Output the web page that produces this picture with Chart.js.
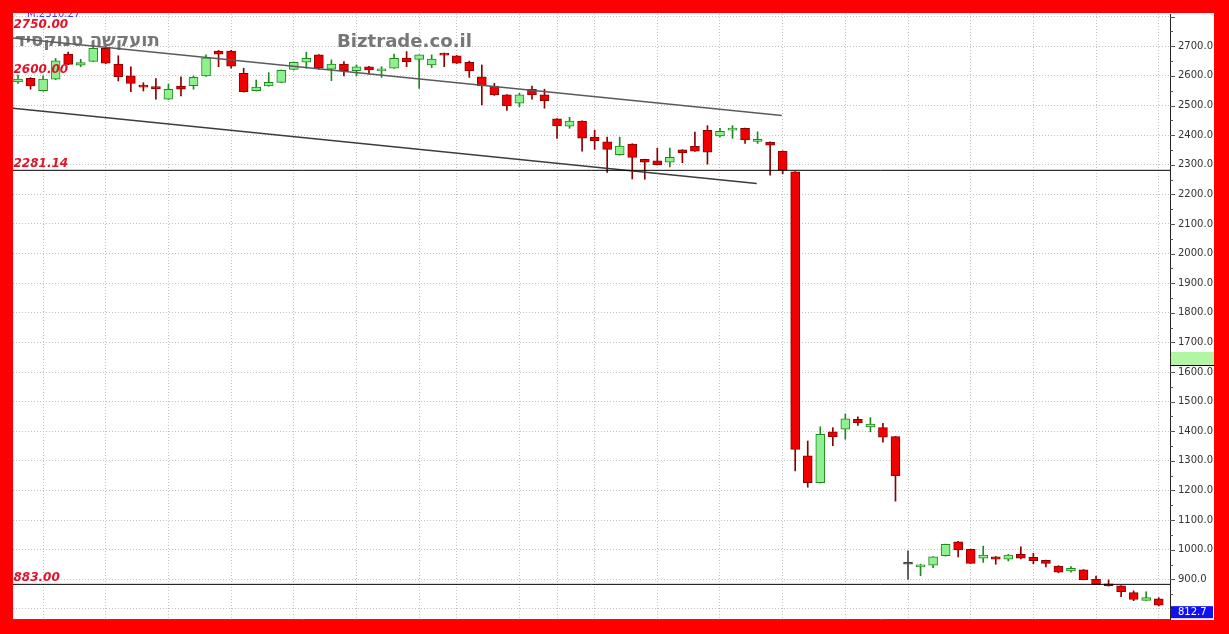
<!DOCTYPE html>
<html><head><meta charset="utf-8">
<script src="https://cdn.jsdelivr.net/npm/chart.js@4.4.1/dist/chart.umd.min.js"></script>
<style>
html,body{margin:0;padding:0;background:#ff0000;width:1229px;height:634px;overflow:hidden}
#wrap{position:absolute;left:13px;top:13px;width:1201px;height:607px;background:#fff}
canvas{display:block}
</style></head><body>
<div id="wrap"><canvas id="c" width="1201" height="607"></canvas></div>
<script>
// ---- data (daily candles, oldest first) ----
const opens  = [2580,2592,2550,2589,2674,2636,2649,2693,2640,2600,2567,2564,2521,2566,2567,2600,2684,2684,2609,2550,
                2566,2578,2622,2646,2671,2623,2640,2618,2631,2617,2626,2660,2656,2637,2676,2668,2646,2597,2566,2536,
                2508,2555,2536,2455,2430,2447,2393,2377,2334,2370,2318,2313,2309,2350,2362,2416,2397,2417,2423,2379,
                2376,2346,2276,1317,1226,1398,1407,1440,1415,1412,1382,951,942,948,980,1027,1001,971,976,968,
                984,974,964,945,928,932,901,885,878,855,829,834];
const highs  = [2603,2594,2600,2659,2680,2656,2699,2699,2668,2631,2577,2591,2572,2597,2600,2671,2686,2686,2626,2586,
                2611,2620,2647,2680,2672,2654,2648,2637,2632,2631,2674,2682,2671,2671,2677,2669,2650,2637,2575,2537,
                2541,2566,2555,2456,2460,2448,2417,2393,2393,2371,2319,2356,2356,2351,2410,2432,2423,2432,2424,2411,
                2377,2347,2277,1367,1415,1412,1458,1449,1446,1427,1383,996,951,977,1019,1028,1002,1012,977,984,
                1010,988,965,946,943,933,911,898,879,861,858,838];
const lows   = [2575,2555,2548,2587,2638,2631,2648,2641,2583,2547,2549,2521,2520,2532,2555,2598,2631,2626,2545,2549,
                2565,2577,2620,2626,2622,2584,2600,2600,2606,2595,2625,2631,2558,2628,2631,2642,2595,2502,2534,2483,
                2496,2521,2491,2389,2423,2346,2352,2274,2332,2252,2251,2299,2293,2307,2345,2302,2394,2389,2372,2372,
                2265,2269,1266,1211,1225,1351,1373,1420,1398,1363,1164,900,912,939,978,976,953,957,951,962,
                969,952,942,922,924,898,882,877,841,828,829,810];
const closes = [2589,2566,2589,2651,2639,2645,2693,2643,2597,2575,2562,2556,2555,2555,2595,2661,2673,2633,2547,2562,
                2578,2619,2646,2659,2626,2640,2618,2631,2620,2623,2659,2648,2671,2657,2670,2643,2617,2566,2536,2499,
                2536,2536,2516,2431,2447,2390,2381,2352,2363,2325,2309,2300,2325,2341,2346,2342,2413,2423,2384,2386,
                2366,2282,1339,1226,1390,1382,1442,1429,1424,1380,1250,951,948,976,1018,999,954,982,968,982,
                971,963,954,924,937,899,883,878,858,832,838,812.7];
const lastPrice = 812.7;
const topNote = 'M.2310.27';
// weekly grid positions (candle index of each week's first session)
const weekStarts = [2,7,12,17,22,27,32,35,40,43,46,51,56,61,66,71,76,81,86,91];
// price grid / tick values
const priceTicks = [800,900,1000,1100,1200,1300,1400,1500,1600,1700,1800,1900,2000,2100,2200,2300,2400,2500,2600,2700,2800];
// annotated levels and channel lines [candle index, price]
const levels = [2750, 2600, 2281.14, 883];
const hLines = [2281.14, 883];
const upperChannel = [[-0.4, 2728], [60.93, 2466]];
const lowerChannel = [[-0.4, 2491], [58.93, 2237]];
const axisBand = [1624, 1668];

const X_MIN = -0.4, X_MAX = 91.9, Y_MIN = 766, Y_MAX = 2809;

const upFill='#8ef08e', upLine='#1e8a1e', dnFill='#f00000', dnLine='#8a0000', doji='#444444';
const idx = closes.map((_, i) => i);
const dir = idx.map(i => closes[i] > opens[i] ? 1 : (closes[i] < opens[i] ? -1 : 0));
const bodyData = idx.map(i => ({x: i, y: [Math.min(opens[i], closes[i]), Math.max(opens[i], closes[i])]}));
const wickData = idx.map(i => ({x: i, y: [lows[i], highs[i]]}));

function lineDs(pts, color, width, order){
  return {type:'line', data: pts.map(p => ({x:p[0], y:p[1]})), borderColor: color, borderWidth: width,
          pointRadius: 0, fill: false, order: order, tension: 0};
}

const overlay = {
  id: 'overlay',
  beforeDatasetsDraw(chart){
    const ctx = chart.ctx;
    ctx.save();
    ctx.fillStyle = 'rgba(112,112,112,0.95)';
    ctx.textAlign = 'left'; ctx.direction = 'ltr';
    // draw glyphs one by one, left to right, scaled to fit a width
    const fitChars = (txt, x, y, w) => {
      const chars = Array.from(txt);
      ctx.font = 'bold 16px "DejaVu Sans"';
      const total = chars.reduce((a, ch) => a + ctx.measureText(ch).width, 0);
      const s = 16 * w / total;
      ctx.font = 'bold ' + s.toFixed(2) + 'px "DejaVu Sans"';
      let cx = x;
      chars.forEach(ch => { ctx.fillText(ch, cx, y); cx += ctx.measureText(ch).width; });
    };
    fitChars('דיסקונט השקעות', 2, 33, 145);
    fitChars('Biztrade.co.il', 324, 34, 135);
    ctx.restore();
  },
  afterDraw(chart){
    const ctx = chart.ctx, ys = chart.scales.y, area = chart.chartArea;
    ctx.save();
    // small ticks on price axis
    ctx.strokeStyle = '#555'; ctx.lineWidth = 1;
    for (let v = 800; v <= 2800; v += 50){
      const y = Math.round(ys.getPixelForValue(v)) + 0.5;
      const len = (v % 100 === 0) ? 5 : 3;
      ctx.beginPath(); ctx.moveTo(area.right, y); ctx.lineTo(area.right + len, y); ctx.stroke();
    }
    // green band on axis
    const b1 = ys.getPixelForValue(axisBand[1]), b0 = ys.getPixelForValue(axisBand[0]);
    ctx.fillStyle = '#b2f5a2';
    ctx.fillRect(area.right + 1, b1, 43, b0 - b1);
    ctx.strokeStyle = '#000';
    ctx.beginPath(); ctx.moveTo(area.right, Math.round(b0) + 0.5); ctx.lineTo(area.right + 44, Math.round(b0) + 0.5); ctx.stroke();
    // last price box
    const yl = ys.getPixelForValue(lastPrice);
    ctx.fillStyle = '#1010f0';
    ctx.fillRect(area.right + 1, yl + 1, 42, 12);
    ctx.fillStyle = '#fff';
    ctx.font = '10px "DejaVu Sans"'; ctx.textBaseline = 'middle'; ctx.textAlign = 'left';
    ctx.fillText(lastPrice.toFixed(1), area.right + 8, yl + 7.5);
    // level labels
    ctx.textBaseline = 'alphabetic';
    ctx.fillStyle = '#e3122b';
    ctx.font = 'italic bold 12px "DejaVu Sans"';
    levels.forEach(v => ctx.fillText(v.toFixed(2), 0.5, ys.getPixelForValue(v) - 3));
    // top note
    ctx.fillStyle = '#3a3aff';
    ctx.font = '10px "DejaVu Sans"';
    ctx.fillText(topNote, 14, 4);
    ctx.restore();
  }
};

new Chart(document.getElementById('c'), {
  type: 'bar',
  data: {
    datasets: [
      lineDs([[X_MIN, hLines[0]], [X_MAX, hLines[0]]], '#000', 1, 0),
      lineDs([[X_MIN, hLines[1]], [X_MAX, hLines[1]]], '#000', 1, 0),
      lineDs(upperChannel, '#5a5a5a', 1.5, 1),
      lineDs(lowerChannel, '#3c3c3c', 1.5, 1),
      {type:'bar', data: bodyData, grouped:false, barThickness: 9, minBarLength: 2,
       backgroundColor: dir.map(d => d > 0 ? upFill : d < 0 ? dnFill : doji),
       borderColor: dir.map(d => d > 0 ? upLine : d < 0 ? dnLine : doji),
       borderWidth: 1, borderSkipped: false, order: 2},
      {type:'bar', data: wickData, grouped:false, barThickness: 1,
       backgroundColor: dir.map(d => d > 0 ? upLine : d < 0 ? dnLine : doji),
       borderWidth: 0, order: 3}
    ]
  },
  options: {
    responsive: false, animation: false, devicePixelRatio: 1,
    layout: {padding: {top: 1, bottom: 1, left: 0, right: 0}},
    plugins: {legend: {display: false}, tooltip: {enabled: false}},
    scales: {
      x: {type: 'linear', min: X_MIN, max: X_MAX, offset: false,
          grid: {offset: false, color: '#c2c2c2', lineWidth: 1, drawTicks: false},
          border: {display: true, color: '#555', dash: [1, 2]},
          ticks: {display: false},
          afterBuildTicks: s => { s.ticks = weekStarts.map(v => ({value: v})); },
          afterFit: s => { s.height = 0; s.paddingLeft = 0; s.paddingRight = 0; s.paddingTop = 0; s.paddingBottom = 0; }},
      y: {type: 'linear', position: 'right', min: Y_MIN, max: Y_MAX,
          grid: {color: '#c2c2c2', lineWidth: 1, drawTicks: false},
          border: {display: true, color: '#222', dash: [1, 2]},
          ticks: {font: {family: 'DejaVu Sans', size: 10}, color: '#333', padding: 8,
                  callback: v => (v >= 900 && v <= 2700) ? v.toFixed(1) : ''},
          afterBuildTicks: s => { s.ticks = priceTicks.map(v => ({value: v})); },
          afterFit: s => { s.width = 44; s.paddingTop = 0; s.paddingBottom = 0; s.paddingLeft = 0; s.paddingRight = 0; }}
    }
  },
  plugins: [overlay]
});
</script>
</body></html>
